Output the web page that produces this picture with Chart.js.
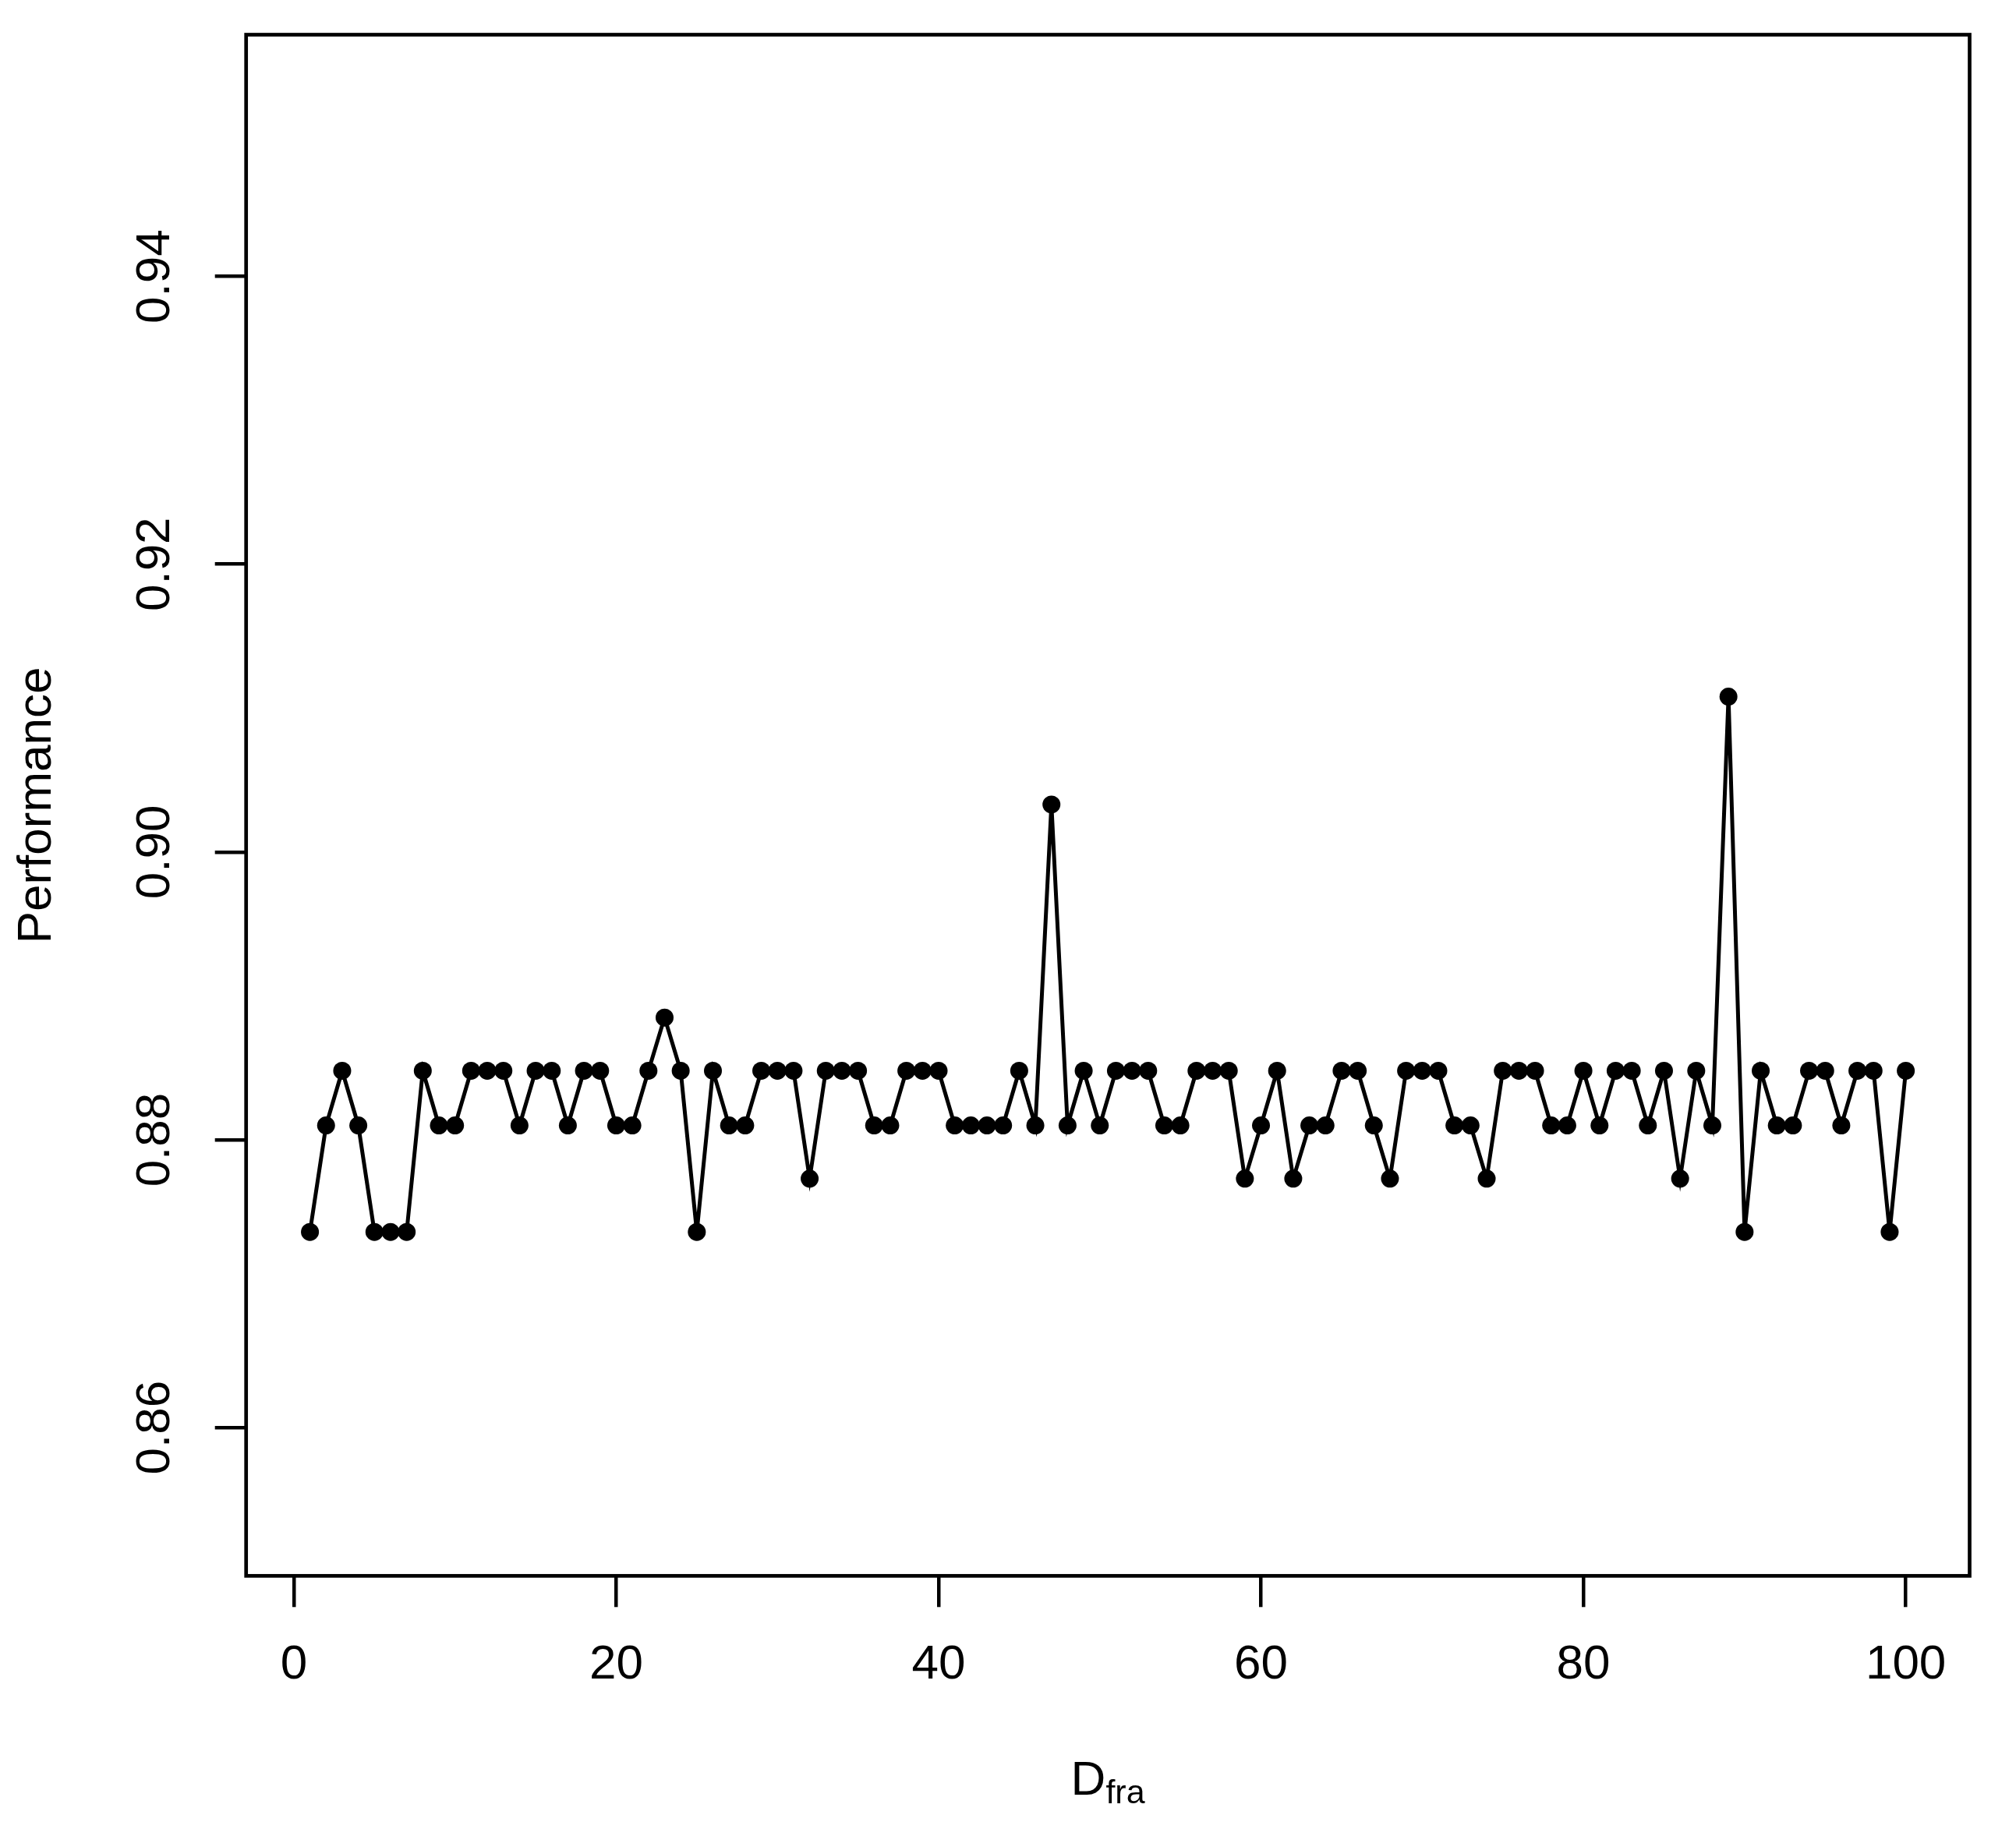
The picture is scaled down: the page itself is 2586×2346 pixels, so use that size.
<!DOCTYPE html>
<html>
<head>
<meta charset="utf-8">
<title>Performance vs D_fra</title>
<script src="https://cdn.jsdelivr.net/npm/chart.js@4.4.1/dist/chart.umd.min.js"></script>
<style>
    html, body { margin: 0; padding: 0; background: #fff; }
    #wrap { width: 2586px; height: 2346px; }
</style>
</head>
<body>
<div id="wrap"><canvas id="perfChart" width="2586" height="2346"></canvas></div>
<script>
// run index (D_fra) and measured performance
const runIndex = [
    1, 2, 3, 4, 5, 6, 7, 8, 9, 10, 11, 12, 13, 14, 15, 16, 17, 18, 19, 20,
    21, 22, 23, 24, 25, 26, 27, 28, 29, 30, 31, 32, 33, 34, 35, 36, 37, 38, 39, 40,
    41, 42, 43, 44, 45, 46, 47, 48, 49, 50, 51, 52, 53, 54, 55, 56, 57, 58, 59, 60,
    61, 62, 63, 64, 65, 66, 67, 68, 69, 70, 71, 72, 73, 74, 75, 76, 77, 78, 79, 80,
    81, 82, 83, 84, 85, 86, 87, 88, 89, 90, 91, 92, 93, 94, 95, 96, 97, 98, 99, 100
];
const performance = [
    0.8736, 0.8810, 0.8848, 0.8810, 0.8736, 0.8736, 0.8736, 0.8848, 0.8810, 0.8810,
    0.8848, 0.8848, 0.8848, 0.8810, 0.8848, 0.8848, 0.8810, 0.8848, 0.8848, 0.8810,
    0.8810, 0.8848, 0.8885, 0.8848, 0.8736, 0.8848, 0.8810, 0.8810, 0.8848, 0.8848,
    0.8848, 0.8773, 0.8848, 0.8848, 0.8848, 0.8810, 0.8810, 0.8848, 0.8848, 0.8848,
    0.8810, 0.8810, 0.8810, 0.8810, 0.8848, 0.8810, 0.9033, 0.8810, 0.8848, 0.8810,
    0.8848, 0.8848, 0.8848, 0.8810, 0.8810, 0.8848, 0.8848, 0.8848, 0.8773, 0.8810,
    0.8848, 0.8773, 0.8810, 0.8810, 0.8848, 0.8848, 0.8810, 0.8773, 0.8848, 0.8848,
    0.8848, 0.8810, 0.8810, 0.8773, 0.8848, 0.8848, 0.8848, 0.8810, 0.8810, 0.8848,
    0.8810, 0.8848, 0.8848, 0.8810, 0.8848, 0.8773, 0.8848, 0.8810, 0.9108, 0.8736,
    0.8848, 0.8810, 0.8810, 0.8848, 0.8848, 0.8810, 0.8848, 0.8848, 0.8736, 0.8848
];
const xTicks = [0, 20, 40, 60, 80, 100];
const yTicks = [0.86, 0.88, 0.90, 0.92, 0.94];

const FONT = '"Liberation Sans", Arial, Helvetica, sans-serif';

// R-style full frame around the plot region
const frameBox = {
    id: 'frameBox',
    afterDraw(chart) {
        const { ctx, chartArea: a } = chart;
        ctx.save();
        ctx.strokeStyle = '#000';
        ctx.lineWidth = 4.7;
        ctx.strokeRect(a.left, a.top, a.right - a.left, a.bottom - a.top);
        ctx.restore();
    }
};

// x axis title with subscript: D_fra
const subscriptTitle = {
    id: 'subscriptTitle',
    afterDraw(chart) {
        const { ctx, chartArea: a } = chart;
        const base = a.bottom + 281;
        ctx.save();
        ctx.fillStyle = '#000';
        ctx.textBaseline = 'alphabetic';
        ctx.textAlign = 'left';
        ctx.font = '62px ' + FONT;
        const wMain = ctx.measureText('D').width;
        ctx.font = '43px ' + FONT;
        const wSub = ctx.measureText('fra').width;
        const x0 = (a.left + a.right) / 2 - (wMain + wSub) / 2;
        ctx.font = '62px ' + FONT;
        ctx.fillText('D', x0, base);
        ctx.font = '43px ' + FONT;
        ctx.fillText('fra', x0 + wMain, base + 11);
        ctx.restore();
    }
};

const tickGrid = {
    drawOnChartArea: false,
    drawTicks: true,
    tickLength: 40,
    tickWidth: 4.5,
    tickColor: '#000',
    color: '#000',
    lineWidth: 4.5
};

new Chart(document.getElementById('perfChart'), {
    type: 'line',
    data: {
        datasets: [{
            data: runIndex.map((x, i) => ({ x: x, y: performance[i] })),
            borderColor: '#000',
            backgroundColor: '#000',
            borderWidth: 5,
            pointRadius: 11.5,
            pointBackgroundColor: '#000',
            pointBorderWidth: 0,
            tension: 0,
            fill: false
        }]
    },
    options: {
        responsive: false,
        animation: false,
        devicePixelRatio: 1,
        layout: { padding: { top: 44.5, right: 59.5, left: 0, bottom: 0 } },
        plugins: {
            legend: { display: false },
            tooltip: { enabled: false }
        },
        scales: {
            x: {
                type: 'linear',
                min: -2.96,
                max: 103.96,
                afterBuildTicks: (scale) => { scale.ticks = xTicks.map(v => ({ value: v })); },
                afterFit: (scale) => {
                    scale.height = 324.7;
                    scale.paddingLeft = 0;
                    scale.paddingRight = 0;
                },
                grid: tickGrid,
                border: { display: false },
                ticks: {
                    color: '#000',
                    font: { family: FONT, size: 62 },
                    padding: 37,
                    autoSkip: false,
                    maxRotation: 0,
                    callback: (v) => String(v)
                }
            },
            y: {
                type: 'linear',
                min: 0.8497,
                max: 0.9568,
                afterBuildTicks: (scale) => { scale.ticks = yTicks.map(v => ({ value: v })); },
                afterFit: (scale) => {
                    scale.width = 315.7;
                    scale.paddingTop = 0;
                    scale.paddingBottom = 0;
                },
                grid: tickGrid,
                border: { display: false },
                ticks: {
                    color: '#000',
                    font: { family: FONT, size: 62 },
                    padding: 15,
                    autoSkip: false,
                    minRotation: 90,
                    maxRotation: 90,
                    crossAlign: 'center',
                    callback: (v) => Number(v).toFixed(2)
                },
                title: {
                    display: true,
                    text: 'Performance',
                    color: '#000',
                    font: { family: FONT, size: 62 },
                    padding: { top: 11, bottom: 0 }
                }
            }
        }
    },
    plugins: [frameBox, subscriptTitle]
});
</script>
</body>
</html>
